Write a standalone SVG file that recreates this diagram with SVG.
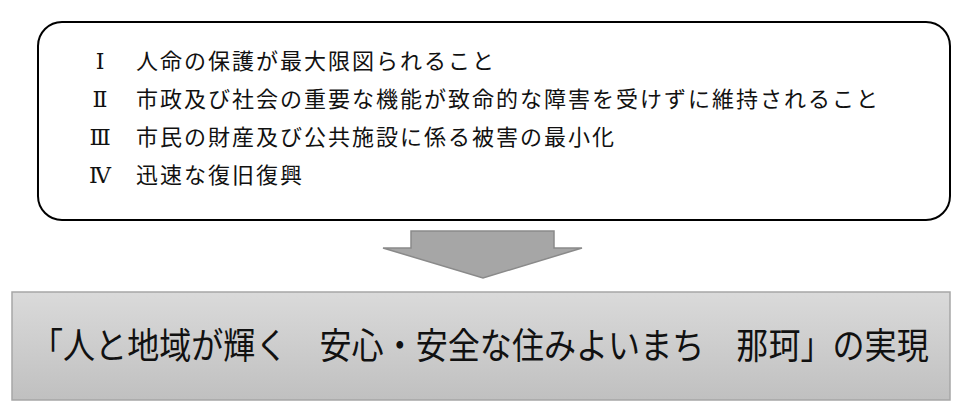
<svg xmlns="http://www.w3.org/2000/svg" width="958" height="410" viewBox="0 0 958 410">
  <defs>
    <linearGradient id="g" x1="0" y1="0" x2="0" y2="1">
      <stop offset="0" stop-color="#dadada"/>
      <stop offset="1" stop-color="#c0c0c0"/>
    </linearGradient>
    <style>
      .t { font-family: "Noto Sans CJK JP", "Noto Sans", sans-serif; font-size: 22px; fill: #111; }
      .n { font-family: "Liberation Serif", "DejaVu Serif", "Noto Sans CJK JP", serif; font-size: 22px; fill: #111; text-anchor: middle; }
      .l { letter-spacing: 2px; }
      .big { font-family: "Noto Sans CJK JP", "Noto Sans", sans-serif; font-size: 36px; fill: #111; }
    </style>
  </defs>
  <rect width="958" height="410" fill="#ffffff"/>
  <g id="principles">
    <rect x="38" y="22" width="912" height="198" rx="24" ry="24" fill="#ffffff" stroke="#000000" stroke-width="2"/>
    <text class="n" x="100" y="69">Ⅰ</text>
    <text class="t l" x="136" y="69">人命の保護が最大限図られること</text>
    <text class="n" x="100" y="107">Ⅱ</text>
    <text class="t l" x="136" y="107">市政及び社会の重要な機能が致命的な障害を受けずに維持されること</text>
    <text class="n" x="100" y="145">Ⅲ</text>
    <text class="t l" x="136" y="145">市民の財産及び公共施設に係る被害の最小化</text>
    <text class="n" x="100" y="183">Ⅳ</text>
    <text class="t l" x="136" y="183">迅速な復旧復興</text>
  </g>
  <g id="connectors">
    <polygon points="411,231 554,231 554,248 582,248 483,278 383,248 411,248" fill="#a6a6a6" stroke="#8a8a8a" stroke-width="1.5" stroke-linejoin="miter"/>
  </g>
  <g id="goal">
    <rect x="12" y="292" width="938" height="108" fill="url(#g)" stroke="#a6a6a6" stroke-width="1.5"/>
    <text class="big" transform="translate(31,359) scale(0.891,1)" x="0" y="0">「人と地域が輝く　安心・安全な住みよいまち　那珂」の実現</text>
  </g>
</svg>
